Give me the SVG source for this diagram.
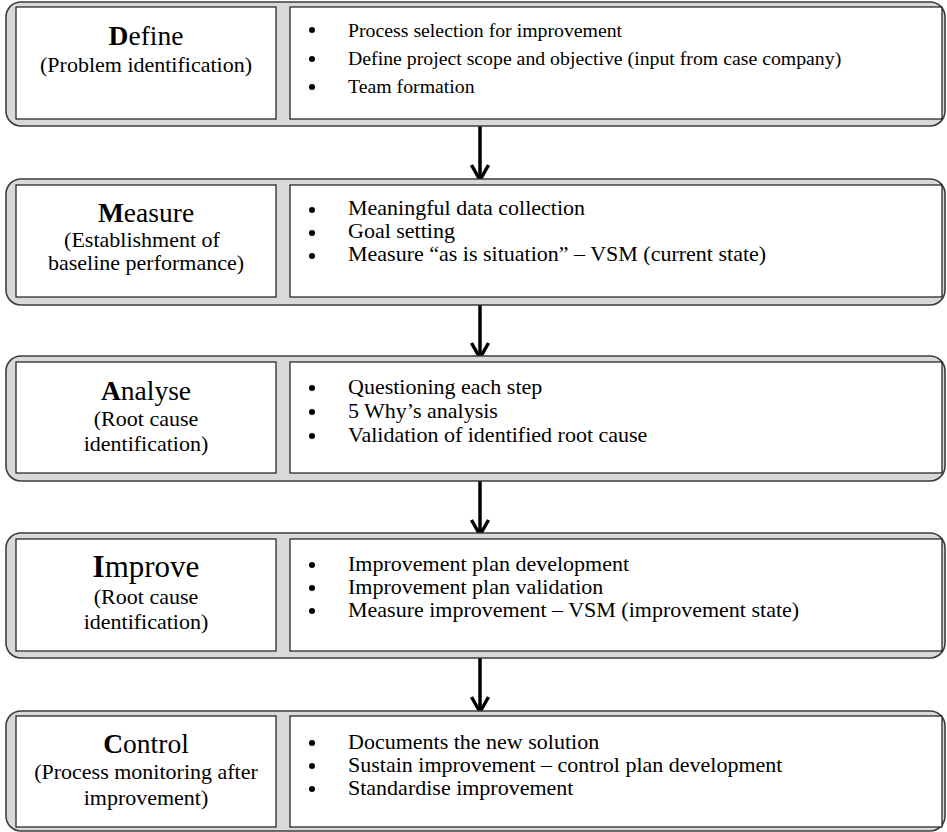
<svg xmlns="http://www.w3.org/2000/svg" width="947" height="832" viewBox="0 0 947 832">
  <style>
    .frame { fill: #d9d9d9; stroke: #3c3c3c; stroke-width: 1.6; }
    .cell { fill: #ffffff; stroke: #1a1a1a; stroke-width: 1.2; }
    .title { font-family: "Liberation Serif", "Times New Roman", serif; font-size: 27.5px; fill: #000; text-anchor: middle; }
    .title-lg { font-size: 31px; }
    .sub { font-family: "Liberation Serif", "Times New Roman", serif; font-size: 22px; fill: #000; text-anchor: middle; }
    .item { font-family: "Liberation Serif", "Times New Roman", serif; font-size: 22px; fill: #000; }
    .item-sm { font-size: 19.8px; }
    .dot { fill: #000; }
    .flow { stroke: #000; stroke-width: 3.5; fill: none; }
  </style>
  <defs>
    <marker id="chevron" markerUnits="userSpaceOnUse" markerWidth="34" markerHeight="34" viewBox="-17 -17 34 34" refX="0" refY="0" orient="auto">
      <path d="M-15,-8.5 L0,0 L-15,8.5" fill="none" stroke="#000" stroke-width="3.5" stroke-linejoin="miter" stroke-miterlimit="10"/>
    </marker>
  </defs>

  <!-- connectors between phases -->
  <g id="connectors">
    <line class="flow" x1="480" y1="126" x2="480" y2="180" marker-end="url(#chevron)"/>
    <line class="flow" x1="480" y1="305" x2="480" y2="358" marker-end="url(#chevron)"/>
    <line class="flow" x1="480" y1="481" x2="480" y2="535" marker-end="url(#chevron)"/>
    <line class="flow" x1="480" y1="658" x2="480" y2="712" marker-end="url(#chevron)"/>
  </g>

  <!-- Define -->
  <g id="define">
    <rect class="frame" x="6" y="2" width="939" height="124" rx="15"/>
    <rect class="cell" x="16" y="7" width="260" height="112"/>
    <rect class="cell" x="290" y="7" width="652" height="112"/>
    <text class="title" x="146" y="45"><tspan font-weight="bold">D</tspan>efine</text>
    <text class="sub" x="146" y="72">(Problem identification)</text>
    <circle class="dot" cx="312" cy="30" r="3"/>
    <circle class="dot" cx="312" cy="59" r="3"/>
    <circle class="dot" cx="312" cy="87" r="3"/>
    <text class="item item-sm" x="348" y="37">Process selection for improvement</text>
    <text class="item item-sm" x="348" y="65">Define project scope and objective (input from case company)</text>
    <text class="item item-sm" x="348" y="93">Team formation</text>
  </g>

  <!-- Measure -->
  <g id="measure">
    <rect class="frame" x="6" y="179" width="939" height="126" rx="15"/>
    <rect class="cell" x="16" y="185" width="260" height="112"/>
    <rect class="cell" x="290" y="185" width="652" height="112"/>
    <text class="title" x="146" y="222"><tspan font-weight="bold">M</tspan>easure</text>
    <text class="sub" x="142" y="247">(Establishment of</text>
    <text class="sub" x="146" y="270">baseline performance)</text>
    <circle class="dot" cx="312" cy="210" r="3"/>
    <circle class="dot" cx="312" cy="233" r="3"/>
    <circle class="dot" cx="312" cy="256" r="3"/>
    <text class="item" x="348" y="215">Meaningful data collection</text>
    <text class="item" x="348" y="238">Goal setting</text>
    <text class="item" x="348" y="261">Measure “as is situation” – VSM (current state)</text>
  </g>

  <!-- Analyse -->
  <g id="analyse">
    <rect class="frame" x="6" y="356" width="939" height="125" rx="15"/>
    <rect class="cell" x="16" y="362" width="260" height="111"/>
    <rect class="cell" x="290" y="362" width="652" height="111"/>
    <text class="title" x="146" y="400"><tspan font-weight="bold">A</tspan>nalyse</text>
    <text class="sub" x="146" y="426">(Root cause</text>
    <text class="sub" x="146" y="451">identification)</text>
    <circle class="dot" cx="312" cy="388" r="3"/>
    <circle class="dot" cx="312" cy="412" r="3"/>
    <circle class="dot" cx="312" cy="436" r="3"/>
    <text class="item" x="348" y="394">Questioning each step</text>
    <text class="item" x="348" y="418">5 Why’s analysis</text>
    <text class="item" x="348" y="442">Validation of identified root cause</text>
  </g>

  <!-- Improve -->
  <g id="improve">
    <rect class="frame" x="6" y="533" width="939" height="125" rx="15"/>
    <rect class="cell" x="16" y="539" width="260" height="112"/>
    <rect class="cell" x="290" y="539" width="652" height="112"/>
    <text class="title title-lg" x="146" y="577"><tspan font-weight="bold">I</tspan>mprove</text>
    <text class="sub" x="146" y="604">(Root cause</text>
    <text class="sub" x="146" y="629">identification)</text>
    <circle class="dot" cx="312" cy="565" r="3"/>
    <circle class="dot" cx="312" cy="588" r="3"/>
    <circle class="dot" cx="312" cy="611" r="3"/>
    <text class="item" x="348" y="571">Improvement plan development</text>
    <text class="item" x="348" y="594">Improvement plan validation</text>
    <text class="item" x="348" y="617">Measure improvement – VSM (improvement state)</text>
  </g>

  <!-- Control -->
  <g id="control">
    <rect class="frame" x="6" y="711" width="939" height="120" rx="15"/>
    <rect class="cell" x="16" y="716" width="260" height="111"/>
    <rect class="cell" x="290" y="716" width="652" height="111"/>
    <text class="title" x="146" y="753"><tspan font-weight="bold">C</tspan>ontrol</text>
    <text class="sub" x="146" y="779">(Process monitoring after</text>
    <text class="sub" x="146" y="805">improvement)</text>
    <circle class="dot" cx="312" cy="743" r="3"/>
    <circle class="dot" cx="312" cy="766" r="3"/>
    <circle class="dot" cx="312" cy="789" r="3"/>
    <text class="item" x="348" y="749">Documents the new solution</text>
    <text class="item" x="348" y="772">Sustain improvement – control plan development</text>
    <text class="item" x="348" y="795">Standardise improvement</text>
  </g>
</svg>
